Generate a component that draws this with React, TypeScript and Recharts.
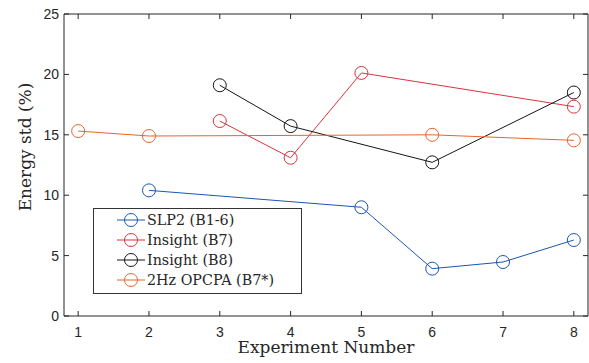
import React from 'react';
import { LineChart, Line, XAxis, YAxis, Legend, Label } from 'recharts';

const xTicks = [1, 2, 3, 4, 5, 6, 7, 8];
const yTicks = [0, 5, 10, 15, 20, 25];

const slp2X = [2, 5, 6, 7, 8];
const slp2Y = [10.4, 9.0, 3.92, 4.47, 6.29];

const insB7X = [3, 4, 5, 8];
const insB7Y = [16.14, 13.1, 20.12, 17.33];

const insB8X = [3, 4, 6, 8];
const insB8Y = [19.1, 15.72, 12.72, 18.5];

const opcpaX = [1, 2, 6, 8];
const opcpaY = [15.31, 14.9, 15.0, 14.54];

const seriesNames = ['SLP2 (B1-6)', 'Insight (B7)', 'Insight (B8)', '2Hz OPCPA (B7*)'];
const seriesColors = ['#1a56b0', '#d8343e', '#151515', '#e3662b'];

const toData = (xs: number[], ys: number[]) => xs.map((x, i) => ({ x, y: ys[i] }));

const series = [
  toData(slp2X, slp2Y),
  toData(insB7X, insB7Y),
  toData(insB8X, insB8Y),
  toData(opcpaX, opcpaY),
];

const AXIS = '#262626';
const TICK_FONT = '"Liberation Sans", Arial, sans-serif';
const SERIF = '"DejaVu Serif", "Liberation Serif", serif';

const BottomTick = (p: any) => (
  <g>
    <line x1={p.x} x2={p.x} y1={p.y} y2={p.y - 5} stroke={AXIS} />
    <text x={p.x} y={p.y + 21} textAnchor="middle" fontSize={14} fontFamily={TICK_FONT} fill={AXIS}>
      {p.payload.value}
    </text>
  </g>
);
const TopTick = (p: any) => (
  <line x1={p.x} x2={p.x} y1={p.y} y2={p.y + 5} stroke={AXIS} />
);
const LeftTick = (p: any) => (
  <g>
    <line x1={p.x} x2={p.x + 5} y1={p.y} y2={p.y} stroke={AXIS} />
    <text x={p.x - 5} y={p.y} dy="0.36em" textAnchor="end" fontSize={14} fontFamily={TICK_FONT} fill={AXIS}>
      {p.payload.value}
    </text>
  </g>
);
const RightTick = (p: any) => (
  <line x1={p.x} x2={p.x - 5} y1={p.y} y2={p.y} stroke={AXIS} />
);

const YLabel = (props: any) => {
  const vb = props.viewBox;
  const cx = vb.x + vb.width - 39;
  const cy = vb.y + vb.height / 2 - 18;
  return (
    <text
      x={cx}
      y={cy}
      textAnchor="middle"
      dominantBaseline="central"
      transform={`rotate(-90 ${cx} ${cy})`}
      fontSize={17}
      fontFamily={SERIF}
      fill={AXIS}
    >
      Energy std (%)
    </text>
  );
};

const XLabel = (props: any) => {
  const vb = props.viewBox;
  const cx = vb.x + vb.width / 2;
  return (
    <text x={cx} y={vb.y + 37} textAnchor="middle" fontSize={17} fontFamily={SERIF} fill={AXIS}>
      Experiment Number
    </text>
  );
};

const makeDot = (color: string) => (p: any) => (
  <circle key={`${p.cx}-${p.cy}`} cx={p.cx} cy={p.cy} r={6.5} fill="none" stroke={color} strokeWidth={1} />
);

const LegendBox = () => (
  <div
    style={{
      border: '1px solid #333',
      background: '#fff',
      width: 209,
      height: 86,
      boxSizing: 'border-box',
      padding: '1px 0 0 0',
    }}
  >
    {seriesNames.map((n, i) => (
      <div key={n} style={{ display: 'flex', alignItems: 'center', height: 20 }}>
        <svg width={53} height={20} style={{ flex: 'none' }}>
          <line x1={23} x2={51} y1={10} y2={10} stroke={seriesColors[i]} strokeWidth={1} />
          <circle cx={37} cy={10} r={6.5} fill="none" stroke={seriesColors[i]} />
        </svg>
        <span style={{ fontFamily: SERIF, fontSize: 14.3, color: AXIS, whiteSpace: 'nowrap' }}>{n}</span>
      </div>
    ))}
  </div>
);

export default function App() {
  return (
    <div style={{ position: 'absolute', left: 0, top: 0, width: 589, height: 363, background: '#fff' }}>
      <LineChart width={589} height={363} margin={{ top: 13, right: 0, bottom: 46, left: 63 }}>
        <XAxis
          xAxisId="b"
          type="number"
          dataKey="x"
          domain={[0.8, 8.2]}
          ticks={xTicks}
          interval={0}
          height={1}
          tickSize={0}
          tickMargin={0}
          tick={BottomTick}
          tickLine={false}
          axisLine={{ stroke: AXIS }}
          allowDataOverflow
        >
          <Label content={XLabel} />
        </XAxis>
        <XAxis
          xAxisId="t"
          orientation="top"
          type="number"
          dataKey="x"
          domain={[0.8, 8.2]}
          ticks={xTicks}
          interval={0}
          height={1}
          tickSize={0}
          tickMargin={0}
          tick={TopTick}
          tickLine={false}
          axisLine={{ stroke: AXIS }}
          allowDataOverflow
        />
        <YAxis
          yAxisId="l"
          type="number"
          domain={[0, 25]}
          ticks={yTicks}
          interval={0}
          width={1}
          tickSize={0}
          tickMargin={0}
          tick={LeftTick}
          tickLine={false}
          axisLine={{ stroke: AXIS }}
          allowDataOverflow
        >
          <Label content={YLabel} />
        </YAxis>
        <YAxis
          yAxisId="r"
          orientation="right"
          type="number"
          domain={[0, 25]}
          ticks={yTicks}
          interval={0}
          width={1}
          tickSize={0}
          tickMargin={0}
          tick={RightTick}
          tickLine={false}
          axisLine={{ stroke: AXIS }}
          allowDataOverflow
        />
        {series.map((d, i) => (
          <Line
            key={seriesNames[i]}
            xAxisId="b"
            yAxisId="l"
            data={d}
            dataKey="y"
            name={seriesNames[i]}
            stroke={seriesColors[i]}
            strokeWidth={1}
            dot={makeDot(seriesColors[i])}
            activeDot={false}
            isAnimationActive={false}
          />
        ))}
        <Legend
          layout="vertical"
          align="center"
          verticalAlign="middle"
          content={LegendBox}
          wrapperStyle={{ position: 'absolute', left: 93, top: 208, width: 209, height: 86, margin: 0 }}
        />
      </LineChart>
    </div>
  );
}
